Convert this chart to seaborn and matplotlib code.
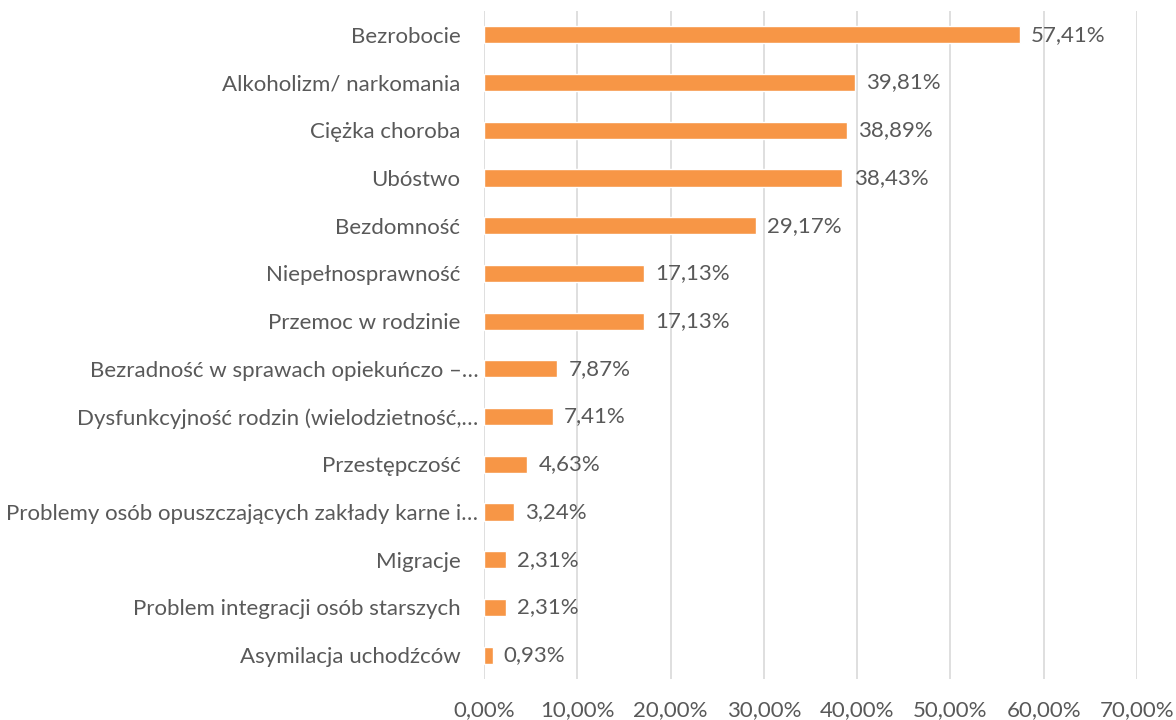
import matplotlib
matplotlib.use("Agg")
import matplotlib.pyplot as plt
import matplotlib.transforms as mtrans
import seaborn as sns
import pandas as pd
from matplotlib.ticker import FuncFormatter, MultipleLocator

categories = [
    "Bezrobocie",
    "Alkoholizm/ narkomania",
    "Ciężka choroba",
    "Ubóstwo",
    "Bezdomność",
    "Niepełnosprawność",
    "Przemoc w rodzinie",
    "Bezradność w sprawach opiekuńczo –…",
    "Dysfunkcyjność rodzin (wielodzietność,…",
    "Przestępczość",
    "Problemy osób opuszczających zakłady karne i…",
    "Migracje",
    "Problem integracji osób starszych",
    "Asymilacja uchodźców",
]
values = [57.41, 39.81, 38.89, 38.43, 29.17, 17.13, 17.13, 7.87, 7.41, 4.63, 3.24, 2.31, 2.31, 0.93]

sns.set_theme(style="white")
plt.rcParams["font.family"] = ["Lato", "DejaVu Sans"]

TEXT = "#595959"
BAR = "#F79646"
FS = 16

df = pd.DataFrame({"cat": categories, "val": values})

fig = plt.figure(figsize=(11.76, 7.2), dpi=100)
ax = fig.add_axes([484 / 1176, 1 - 679 / 720, (1137 - 484) / 1176, (679 - 11) / 720])

sns.barplot(data=df, x="val", y="cat", orient="h", color=BAR, width=0.36,
            saturation=1, ax=ax, zorder=3)

ax.set_xlim(0, 70)
ax.xaxis.set_major_locator(MultipleLocator(10))
ax.xaxis.set_major_formatter(FuncFormatter(lambda v, p: f"{v:.2f}%".replace(".", ",")))
ax.grid(axis="x", color="#D9D9D9", linewidth=1.2, zorder=0)
ax.set_axisbelow(True)
for s in ax.spines.values():
    s.set_visible(False)
ax.set_xlabel("")
ax.set_ylabel("")
ax.tick_params(axis="y", length=0, pad=17, labelsize=FS, labelcolor=TEXT)
ax.tick_params(axis="x", length=0, pad=15, labelsize=FS, labelcolor=TEXT)

# Truncated (ellipsis) labels sit a little closer to the axis, as in the reference
for lab in ax.get_yticklabels():
    if lab.get_text().endswith("…"):
        lab.set_transform(lab.get_transform() + mtrans.ScaledTranslation(13 / 72, 0, fig.dpi_scale_trans))

labels = [f"{v:.2f}%".replace(".", ",") for v in values]
ax.bar_label(ax.containers[0], labels=labels, padding=8, fontsize=FS, color=TEXT)

fig.savefig("out.png", dpi=100)
